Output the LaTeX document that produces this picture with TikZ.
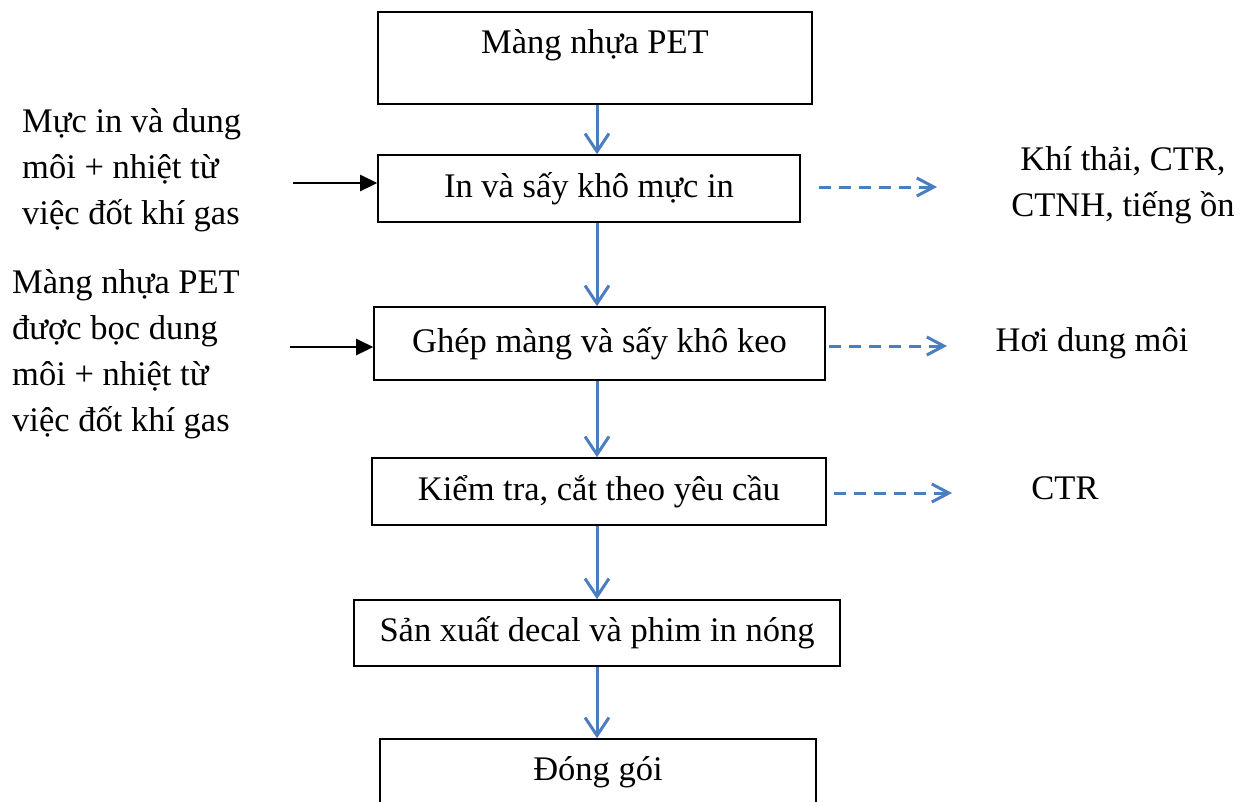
\documentclass[tikz,border=0pt]{standalone}
\usepackage{fontspec}
\setmainfont{Liberation Serif}
\usetikzlibrary{arrows.meta}
\definecolor{flowblue}{RGB}{74,126,193}
\begin{document}
\begin{tikzpicture}[x=1pt,y=-1pt,
	box/.style={draw,line width=1.6pt,inner sep=0pt,font=\fontsize{34.5}{46}\selectfont},
	side/.style={inner sep=0pt,font=\fontsize{34.5}{46}\selectfont},
	flow/.style={flowblue,line width=3pt,-{Straight Barb[length=18pt,width=24pt]}},
	outarr/.style={flowblue,line width=3pt,dash pattern=on 12pt off 8pt,-{Straight Barb[length=17pt,width=18pt]}},
	inarr/.style={black,line width=2.6pt,-{Triangle[length=17pt,width=16pt]}}]
	\useasboundingbox (0,0) rectangle (1250,801);
	% cac cong doan
	\coordinate (spine) at (597,0);
	\node[box,minimum width=434pt,minimum height=92pt,text depth=32pt] (b1) at (595,58) {Màng nhựa PET};
	\node[box,minimum width=422pt,minimum height=67pt] (b2) at (589,188.5) {In và sấy khô mực in};
	\node[box,minimum width=451pt,minimum height=73pt] (b3) at (599.5,343.5) {Ghép màng và sấy khô keo};
	\node[box,minimum width=454pt,minimum height=67pt] (b4) at (599,491.5) {Kiểm tra, cắt theo yêu cầu};
	\node[box,minimum width=486pt,minimum height=66pt] (b5) at (597,633) {Sản xuất decal và phim in nóng};
	\node[box,minimum width=436pt,minimum height=66pt] (b6) at (598,772) {Đóng gói};
	\foreach \a/\b in {b1/b2,b2/b3,b3/b4,b4/b5,b5/b6}
	\draw[flow] (\a.south -| spine) -- (\b.north -| spine);
	% dau vao
	\node[side,align=left,anchor=west] (t1) at (22,170) {Mực in và dung\\môi + nhiệt từ\\việc đốt khí gas};
	\node[side,align=left,anchor=west] (t2) at (12,354) {Màng nhựa PET\\được bọc dung\\môi + nhiệt từ\\việc đốt khí gas};
	\coordinate (in1) at (293,183);
	\coordinate (in2) at (290,347);
	\draw[inarr] (in1) -- (in1 -| b2.west);
	\draw[inarr] (in2) -- (in2 -| b3.west);
	% dau ra
	\node[side,align=center] (r1) at (1123,185) {Khí thải, CTR,\\CTNH, tiếng ồn};
	\node[side] (r2) at (1092,343) {Hơi dung môi};
	\node[side] (r3) at (1065,488) {CTR};
	\coordinate (o1) at (937,187);
	\coordinate (o2) at (947,346);
	\coordinate (o3) at (952,493);
	\draw[outarr] ([xshift=18pt]b2.east |- o1) -- (o1);
	\draw[outarr] ([xshift=3pt]b3.east |- o2) -- (o2);
	\draw[outarr] ([xshift=7pt]b4.east |- o3) -- (o3);
\end{tikzpicture}
\end{document}
